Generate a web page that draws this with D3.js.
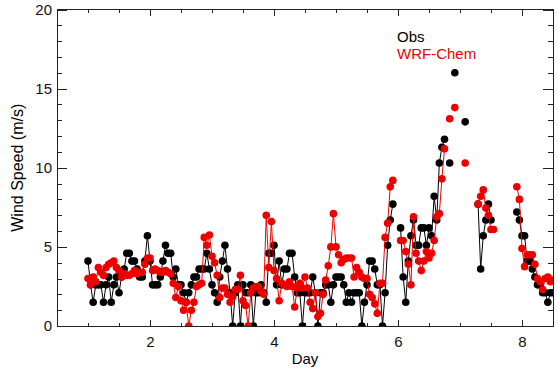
<!DOCTYPE html>
<html lang="en">
<head>
  <meta charset="UTF-8">
  <title>Wind Speed</title>
  <style>
    body {
      margin: 0;
      background: #fff;
    }

    svg {
      display: block;
      font-family: "Liberation Sans", Arial, Helvetica, sans-serif;
    }

    .frame {
      fill: none;
      stroke: #222;
      shape-rendering: crispEdges;
    }

    .tick line {
      stroke: #222;
      shape-rendering: crispEdges;
    }

    .tick text {
      font-size: 15px;
      fill: #111;
    }
  </style>
</head>
<body>
  <div id="chart"></div>

  <script src="https://cdn.jsdelivr.net/npm/d3@7"></script>
  <script>
    // hourly samples, first one at day 1.0 (null = missing)
    const firstDay = 1;
    const obs = [
      4.1, 2.6, 1.5, 2.6, 2.6, 2.6, 1.5, 2.6, 3.1, 1.5, 2.6, 3.1, 2.1, 3.1, 3.6, 4.6, 4.6, 4.1, 4.1, 3.6, 3.1, 3.1, 4.1, 5.7,
      4.1, 2.6, 2.6, 2.6, 3.1, 4.1, 5.1, 4.6, 4.6, 3.1, 3.6, 2.6, 2.6, 2.1, 1.5, 2.1, 2.6, 3.1, 3.1, 3.6, 3.6, 3.6, 4.6, 3.6,
      2.6, 2.1, 1.5, 3.1, 4.1, 5.1, 3.6, 2.1, 0, 2.1, 2.6, 0, 2.6, 2.1, 2.1, 2.6, 0, 2.1, 2.1, 2.6, 2.1, 1.5, 4.6, 4.6,
      5.1, 2.6, 4.1, 2.6, 3.6, 3.6, 4.6, 4.6, 3.1, 2.1, 2.1, 0, 2.1, 2.1, 2.1, 3.1, 2.1, 0, 2.1, 2.1, 2.6, 2.6, 1.5, 2.6,
      3.1, 3.1, 3.1, 2.6, 1.5, 2.1, 1.5, 2.1, 2.1, 2.1, 0, 1.5, 2.6, 4.1, 4.1, 3.6, 2.6, 2.6, 0, 2.1, 5.1, 6.7, 7.7, null,
      null, 6.2, 3.1, 1.5, 4.1, 5.7, 6.7, 5.1, 5.1, 6.2, 6.2, 5.1, 6.2, 5.7, 8.2, 6.7, 10.3, 11.3, 11.8, null, 10.3, null, 16.0, null,
      null, null, 12.9, null, null, null, null, 7.7, 3.6, 5.7, 6.7, 7.7, 6.7, null, null, null, null, null, null, null, null, null, 7.2, 6.7,
      5.7, 5.7, 4.1, 4.1, 3.6, 3.1, 2.6, 2.6, 2.1, 2.1, 1.5, 2.1, 2.1
    ];
    const wrf = [
      3.0, 2.6, 3.1, 2.8, 3.7, 3.4, 3.2, 3.7, 3.9, 4.0, 4.1, 3.7, 3.5, 3.1, 3.3, 3.2, 3.2, 3.3, 3.5, 3.3, 3.4, 3.4, 3.9, 4.3,
      4.3, 3.5, 3.6, 3.5, 3.4, 3.4, 3.5, 3.4, 3.3, 2.7, 1.8, 2.5, 1.6, 1.0, 1.5, 0, 1.0, 1.5, 2.5, 2.6, 2.7, 5.6, 5.1, 5.75,
      4.4, 4.0, 3.2, 1.8, 2.4, 2.4, 2.0, 1.5, 1.85, 2.3, 2.3, 3.2, 1.6, 1.3, 0, 2.1, 2.4, 2.5, 2.5, 2.2, 2.0, 7.0, 3.7, 6.6,
      3.5, 3.0, 1.6, 2.7, 2.6, 2.5, 2.8, 2.5, 1.2, 2.4, 2.7, 2.4, 3.1, 2.4, 1.5, 1.1, 2.1, 0.6, 0.8, 2.0, 2.9, 3.8, 5.0, 7.1,
      5.0, 4.5, 4.0, 4.2, 4.3, 4.3, 4.3, 3.1, 3.7, 3.4, 3.1, 3.0, 3.0, 2.0, 1.8, 1.4, 0.8, 2.7, 2.7, 5.6, 6.5, 8.8, 9.2, null,
      null, 5.4, 5.4, 4.7, 3.9, 2.6, 6.9, 4.6, 4.1, 3.5, 4.1, 4.7, 4.3, 4.6, 5.4, 6.9, 7.1, 9.3, 11.2, null, 13.1, null, 13.8, null,
      null, null, 10.3, null, null, null, null, 7.7, 8.2, 8.6, 7.45, 7.0, 6.1, 6.1, null, null, null, null, null, null, null, null, 8.8, 8.0,
      4.9, 3.75, 4.5, 4.5, 4.5, 3.9, 3.0, 2.8, 2.3, 3.0, 3.1, 2.8, 2.9
    ];
    const seriesNames = ['Obs', 'WRF-Chem'];
    const seriesColors = ['#000', '#ee0000'];
    const xTicks = [2, 4, 6, 8];
    const yTicks = [0, 5, 10, 15, 20];

    (function () {
      const width = 558;
      const height = 375;
      const pLeft = 57, pRight = 553, pTop = 9.5, pBottom = 326;

      const x = d3.scaleLinear().domain([0.5, 8.5]).range([pLeft, pRight]);
      const y = d3.scaleLinear().domain([0, 20]).range([pBottom, pTop]);

      const xMinor = d3.range(1, 8.5, 0.5).filter(d => !xTicks.includes(d));
      const yMinor = d3.range(1, 20, 1).filter(d => !yTicks.includes(d));

      const svg = d3.select('#chart')
        .append('svg')
        .attr('width', width)
        .attr('height', height);

      svg.append('defs')
        .append('clipPath')
        .attr('id', 'plot-clip')
        .append('rect')
        .attr('x', pLeft)
        .attr('y', pTop)
        .attr('width', pRight - pLeft)
        .attr('height', pBottom - pTop);

      // axes: labelled bottom/left, mirrored ticks top/right, all pointing inward
      function addAxis(axis, tx, ty, values, size, labels) {
        const g = svg.append('g')
          .attr('transform', `translate(${tx},${ty})`)
          .call(axis.tickValues(values).tickSize(size)
            .tickFormat(labels ? d3.format('d') : ''));
        g.select('.domain').remove();
        return g;
      }

      addAxis(d3.axisBottom(x).tickPadding(10.5), 0, pBottom, xTicks, -6.3, true);
      addAxis(d3.axisBottom(x), 0, pBottom, xMinor, -3.2, false);
      addAxis(d3.axisTop(x), 0, pTop, xTicks, -6.3, false);
      addAxis(d3.axisTop(x), 0, pTop, xMinor, -3.2, false);
      addAxis(d3.axisLeft(y).tickPadding(5), pLeft, 0, yTicks, -9.9, true);
      addAxis(d3.axisLeft(y), pLeft, 0, yMinor, -5, false);
      addAxis(d3.axisRight(y), pRight, 0, yTicks, -9.9, false);
      addAxis(d3.axisRight(y), pRight, 0, yMinor, -5, false);

      svg.append('rect')
        .classed('frame', true)
        .attr('x', pLeft)
        .attr('y', pTop)
        .attr('width', pRight - pLeft)
        .attr('height', pBottom - pTop);

      // series
      const plot = svg.append('g').attr('clip-path', 'url(#plot-clip)');

      const line = d3.line()
        .defined(d => d.v !== null)
        .x(d => x(d.t))
        .y(d => y(d.v));

      [obs, wrf].forEach((values, k) => {
        const pts = values.map((v, i) => ({ t: firstDay + i / 24, v: v }));
        const g = plot.append('g');

        g.append('path')
          .datum(pts)
          .attr('d', line)
          .attr('fill', 'none')
          .attr('stroke', seriesColors[k])
          .attr('stroke-width', 1);

        g.selectAll('circle')
          .data(pts.filter(d => d.v !== null))
          .enter()
          .append('circle')
          .attr('cx', d => x(d.t))
          .attr('cy', d => y(d.v))
          .attr('r', 3.8)
          .attr('fill', seriesColors[k]);
      });

      // legend
      seriesNames.forEach((name, k) => {
        svg.append('text')
          .attr('x', 397)
          .attr('y', 41.5 + k * 17)
          .attr('font-size', 15)
          .attr('fill', seriesColors[k])
          .text(name);
      });

      // axis titles
      svg.append('text')
        .attr('x', (pLeft + pRight) / 2)
        .attr('y', 364)
        .attr('text-anchor', 'middle')
        .attr('font-size', 15)
        .text('Day');

      svg.append('text')
        .attr('transform', `translate(23,${(pTop + pBottom) / 2}) rotate(-90)`)
        .attr('text-anchor', 'middle')
        .attr('font-size', 16)
        .text('Wind Speed (m/s)');
    })();
  </script>
</body>
</html>
